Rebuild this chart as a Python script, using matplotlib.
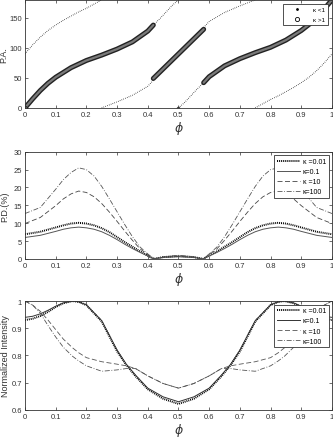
import numpy as np
import matplotlib.pyplot as plt
import matplotlib.patheffects as pe

plt.rcParams['font.family'] = ['Liberation Sans', 'DejaVu Sans']
plt.rcParams['mathtext.fontset'] = 'dejavusans'

# ---- panel 1: position angle ----
# kappa < 1 (dotted), split where P.A. wraps at 180
phi_a = [0, 0.025, 0.05, 0.075, 0.1, 0.125, 0.15, 0.175, 0.2, 0.225, 0.25]
pa_a = [90, 105, 118, 129, 138, 146, 153, 160, 166, 173, 180]
phi_b = [0.25, 0.3, 0.35, 0.4, 0.418]
pa_b = [0, 10, 21, 36, 46]
phi_c = [0.418, 0.44, 0.46, 0.48, 0.5]
pa_c = [138, 149, 160, 171, 180]
phi_d = [0.5, 0.52, 0.54, 0.56, 0.582]
pa_d = [0, 9, 20, 31, 42]
phi_e = [0.582, 0.6, 0.65, 0.7, 0.75]
pa_e = [134, 144, 159, 170, 180]
phi_f = [0.75, 0.775, 0.8, 0.825, 0.85, 0.875, 0.9, 0.925, 0.95, 0.975, 1.0]
pa_f = [0, 7, 14, 20, 27, 34, 42, 51, 62, 75, 90]

# kappa > 1 (circles)
phi_c1 = [0, 0.025, 0.05, 0.075, 0.1, 0.15, 0.2, 0.25, 0.3, 0.35, 0.4, 0.418]
pa_c1 = [0, 15, 29, 41, 51, 67, 79, 88, 98, 110, 128, 138]
phi_c2 = [0.418, 0.44, 0.46, 0.48, 0.5, 0.52, 0.54, 0.56, 0.582]
pa_c2 = [49, 60, 70, 80, 90, 100, 110, 120, 131]
phi_c3 = [0.582, 0.6, 0.65, 0.7, 0.75, 0.8, 0.85, 0.9, 0.925, 0.95, 0.975, 1.0]
pa_c3 = [42, 52, 70, 82, 92, 101, 113, 129, 139, 151, 165, 180]

# ---- panel 2: polarization degree (%) ----
phi_pd = [0, 0.05, 0.1, 0.125, 0.15, 0.175, 0.2, 0.225, 0.25, 0.275, 0.3, 0.325,
          0.35, 0.375, 0.4, 0.42, 0.45, 0.5,
          0.55, 0.58, 0.6, 0.625, 0.65, 0.675, 0.7, 0.725, 0.75, 0.775, 0.8,
          0.825, 0.85, 0.875, 0.9, 0.95, 1.0]
pd_001 = [6.9, 7.6, 8.8, 9.4, 9.9, 10.1, 9.9, 9.4, 8.6, 7.5, 6.1, 4.7, 3.4, 2.1, 0.9, 0.0, 0.5, 0.8,
          0.5, 0.0, 0.9, 2.1, 3.4, 4.7, 6.1, 7.5, 8.6, 9.4, 9.9, 10.1, 9.9, 9.4, 8.8, 7.6, 6.9]
pd_01 = [6.0, 6.6, 7.7, 8.3, 8.7, 8.9, 8.7, 8.3, 7.6, 6.6, 5.4, 4.1, 2.9, 1.8, 0.8, 0.0, 0.4, 0.6,
         0.4, 0.0, 0.8, 1.8, 2.9, 4.1, 5.4, 6.6, 7.6, 8.3, 8.7, 8.9, 8.7, 8.3, 7.7, 6.6, 6.0]
pd_10 = [9.9, 11.6, 14.9, 16.8, 18.2, 19.0, 18.6, 17.4, 15.5, 13.1, 10.5, 7.8, 5.2, 2.8, 1.2, 0.0, 0.5, 0.7,
         0.5, 0.0, 1.2, 2.8, 5.2, 7.8, 10.5, 13.1, 15.5, 17.4, 18.6, 19.0, 18.2, 16.8, 14.9, 11.6, 9.9]
pd_100 = [12.7, 14.4, 19.5, 22.2, 24.2, 25.5, 25.0, 23.2, 20.3, 16.8, 13.2, 9.6, 6.2, 3.3, 1.4, 0.0, 0.6, 1.0,
          0.6, 0.0, 1.4, 3.3, 6.2, 9.6, 13.2, 16.8, 20.3, 23.2, 25.0, 25.5, 24.2, 22.2, 19.5, 14.4, 12.7]

# ---- panel 3: normalized intensity ----
phi_in = [0, 0.025, 0.05, 0.075, 0.1, 0.125, 0.155, 0.175, 0.2, 0.25, 0.3, 0.33, 0.36,
          0.4, 0.45, 0.5, 0.55, 0.6, 0.64, 0.67, 0.7, 0.75, 0.8, 0.825, 0.845,
          0.875, 0.9, 0.925, 0.95, 0.975, 1.0]
in_001 = [0.930, 0.935, 0.945, 0.960, 0.978, 0.992, 1.0, 0.997, 0.985, 0.925, 0.815,
          0.765, 0.724, 0.676, 0.641, 0.622, 0.641, 0.676, 0.724, 0.765, 0.815,
          0.925, 0.985, 0.997, 1.0, 0.992, 0.978, 0.960, 0.945, 0.935, 0.930]
in_01 = [0.940, 0.944, 0.953, 0.966, 0.981, 0.993, 1.0, 0.997, 0.986, 0.928, 0.820,
         0.768, 0.728, 0.680, 0.648, 0.630, 0.648, 0.680, 0.728, 0.768, 0.820,
         0.928, 0.986, 0.997, 1.0, 0.993, 0.981, 0.966, 0.953, 0.944, 0.940]
in_10 = [1.0, 0.985, 0.962, 0.930, 0.895, 0.860, 0.828, 0.810, 0.792, 0.777, 0.768,
         0.762, 0.752, 0.725, 0.697, 0.680, 0.697, 0.725, 0.752, 0.762, 0.768,
         0.777, 0.792, 0.810, 0.828, 0.860, 0.895, 0.930, 0.962, 0.985, 1.0]
in_100 = [1.0, 0.985, 0.955, 0.910, 0.868, 0.830, 0.797, 0.780, 0.762, 0.742, 0.747,
          0.752, 0.752, 0.725, 0.697, 0.680, 0.697, 0.725, 0.752, 0.752, 0.747,
          0.742, 0.762, 0.780, 0.797, 0.830, 0.868, 0.910, 0.955, 0.985, 1.0]

kappa_labels = ['\u03ba =0.01', '\u03ba=0.1', '\u03ba =10', '\u03ba=100']

fig = plt.figure(figsize=(3.33, 4.39), dpi=100)
ax1 = fig.add_axes([0.075, 0.752, 0.922, 0.246])
ax2 = fig.add_axes([0.075, 0.408, 0.922, 0.244])
ax3 = fig.add_axes([0.075, 0.064, 0.922, 0.248])

tc = '#333333'
for ax in (ax1, ax2, ax3):
    ax.tick_params(direction='in', length=2.5, width=0.5, labelsize=5.5,
                   top=True, right=True, colors=tc, pad=2)
    for s in ax.spines.values():
        s.set_linewidth(0.6)
        s.set_color(tc)
    ax.set_xlim(0, 1)
    ax.set_xticks(np.arange(0, 1.01, 0.1))
    ax.set_xticklabels(['0', '0.1', '0.2', '0.3', '0.4', '0.5', '0.6', '0.7', '0.8', '0.9', '1'])
    ax.set_xlabel('$\\phi$', fontsize=9, color=tc, labelpad=1)

# panel 1
dot_kw = dict(color='black', lw=0.7, ls=(0, (0.6, 1.4)))
ax1.plot(phi_a, pa_a, **dot_kw)
for x, y in [(phi_b, pa_b), (phi_c, pa_c), (phi_d, pa_d), (phi_e, pa_e), (phi_f, pa_f)]:
    ax1.plot(x, y, **dot_kw)
circ_fx = [pe.Stroke(linewidth=3.6, foreground='#222222'), pe.Normal()]
for x, y in [(phi_c1, pa_c1), (phi_c2, pa_c2), (phi_c3, pa_c3)]:
    ax1.plot(x, y, color='#7a7a7a', lw=1.6, solid_capstyle='round',
             path_effects=circ_fx)
ax1.plot([0], [0], 'o', ms=3, mfc='none', mec='#222222', mew=0.6)
ax1.plot([0.5], [0], 'o', ms=2, mfc='none', mec='#222222', mew=0.5)
h_dot = plt.Line2D([], [], ls='none', marker='.', ms=2, color='black')
h_circ = plt.Line2D([], [], ls='none', marker='o', ms=3, mfc='none', mec='black', mew=0.6)
leg1 = ax1.legend([h_dot, h_circ], ['\u03ba <1', '\u03ba >1'], loc='upper right', fontsize=4.5,
                  frameon=True, fancybox=False, edgecolor='#333333', framealpha=1,
                  handlelength=3.5, borderpad=0.5, labelspacing=0.7, borderaxespad=0.6,
                  handletextpad=0.8)
leg1.get_frame().set_linewidth(0.6)
ax1.set_ylim(0, 180)
ax1.set_yticks([0, 50, 100, 150])
ax1.set_ylabel('P.A.', fontsize=6.5, color=tc, labelpad=1)

# panel 2
ax2.plot(phi_pd, pd_001, color='black', lw=1.4, ls=(0, (0.5, 0.5)), label=kappa_labels[0])
ax2.plot(phi_pd, pd_01, color='#555555', lw=0.7, ls='-', label=kappa_labels[1])
ax2.plot(phi_pd, pd_10, color='#444444', lw=0.6, ls=(0, (6, 3)), label=kappa_labels[2])
ax2.plot(phi_pd, pd_100, color='#555555', lw=0.6, ls=(0, (6, 2, 1, 2)), label=kappa_labels[3])
ax2.set_ylim(0, 30)
ax2.set_yticks(np.arange(0, 31, 5))
ax2.set_ylabel('P.D.(%)', fontsize=6.5, color=tc, labelpad=3)

# panel 3
ax3.plot(phi_in, in_001, color='black', lw=1.4, ls=(0, (0.5, 0.5)), label=kappa_labels[0])
ax3.plot(phi_in, in_01, color='#333333', lw=0.7, ls='-', label=kappa_labels[1])
ax3.plot(phi_in, in_10, color='#555555', lw=0.6, ls=(0, (6, 3)), label=kappa_labels[2])
ax3.plot(phi_in, in_100, color='#555555', lw=0.6, ls=(0, (6, 2, 1, 2)), label=kappa_labels[3])
ax3.set_ylim(0.6, 1.0)
ax3.set_yticks([0.6, 0.7, 0.8, 0.9, 1.0])
ax3.set_yticklabels(['0.6', '0.7', '0.8', '0.9', '1'])
ax3.set_ylabel('Normalized Intensity', fontsize=6.5, color=tc, labelpad=1)

for ax in (ax2, ax3):
    leg = ax.legend(loc='upper right', fontsize=5, frameon=True, fancybox=False,
                    edgecolor='#333333', framealpha=1, handlelength=3.4,
                    borderpad=0.4, labelspacing=0.45, borderaxespad=0.5,
                    handletextpad=0.3)
    leg.get_frame().set_linewidth(0.6)

fig.savefig('out.png', dpi=100)
